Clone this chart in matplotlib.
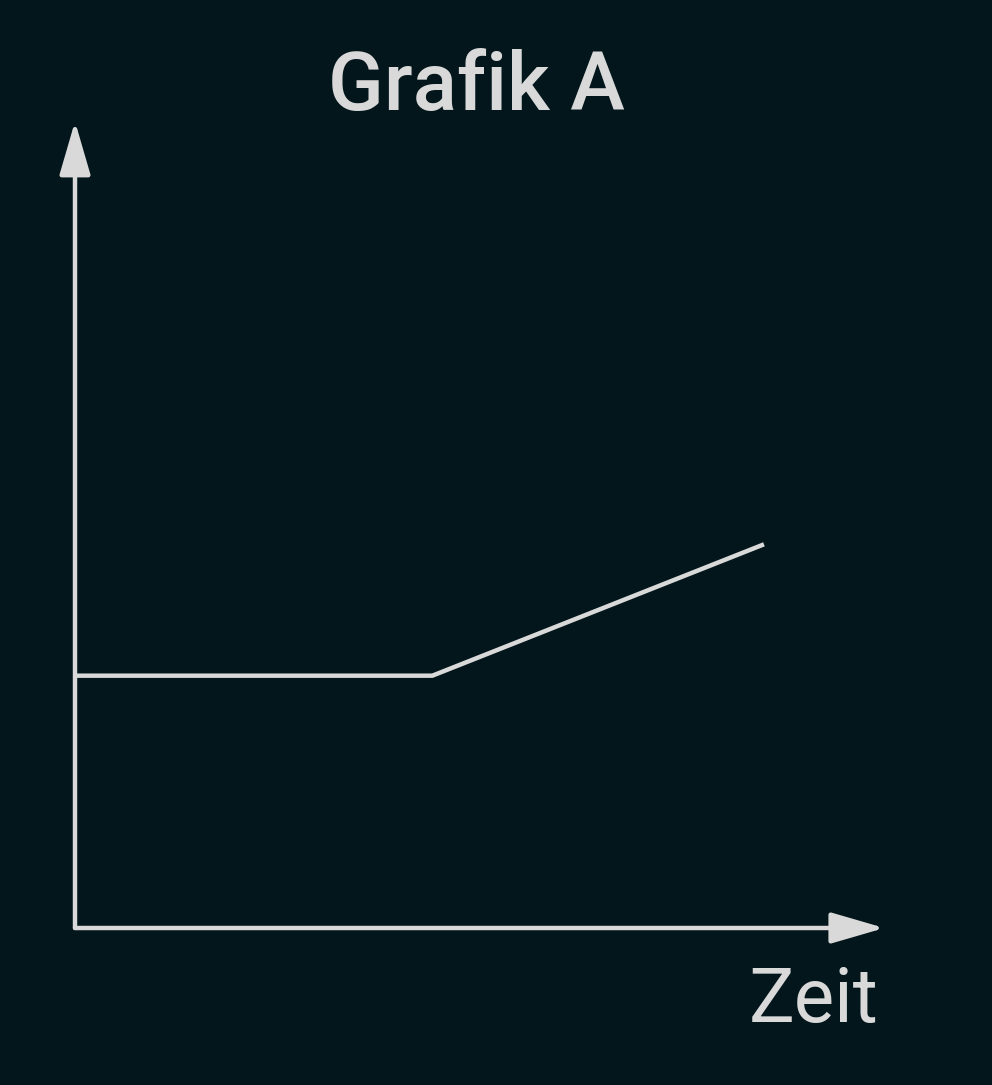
import matplotlib.pyplot as plt

# data: flat segment, then linear rise
zeit = [0.0, 4.45, 8.58]
werte = [3.15, 3.15, 4.79]

bg = '#03161b'
fg = '#d9d9d9'

plt.rcParams['font.family'] = ['Roboto', 'DejaVu Sans']

fig = plt.figure(figsize=(9.92, 10.85), dpi=100, facecolor=bg)
ax = fig.add_axes([75/992, (1085-928)/1085, 803/992, 801/1085])
ax.set_facecolor(bg)
ax.set_xlim(0, 10)
ax.set_ylim(0, 10)
ax.axis('off')

ax.plot(zeit, werte, color=fg, lw=3.2, solid_capstyle='butt', clip_on=False)

arrow = dict(arrowstyle='-|>,head_length=0.55,head_width=0.16', mutation_scale=60,
             color=fg, lw=3.2, shrinkA=0, shrinkB=0)
ax.annotate('', xy=(10.08, 0), xytext=(0, 0), arrowprops=arrow, annotation_clip=False)
ax.annotate('', xy=(0, 10.07), xytext=(0, 0), arrowprops=arrow, annotation_clip=False)

fig.text(476/992, 1 - 110/1085, 'Grafik A', color=fg, fontsize=59,
         fontweight='medium', ha='center', va='baseline')
fig.text(879/992, 1 - 1022/1085, 'Zeit', color=fg, fontsize=55,
         ha='right', va='baseline')

fig.savefig('out.png', facecolor=bg)
